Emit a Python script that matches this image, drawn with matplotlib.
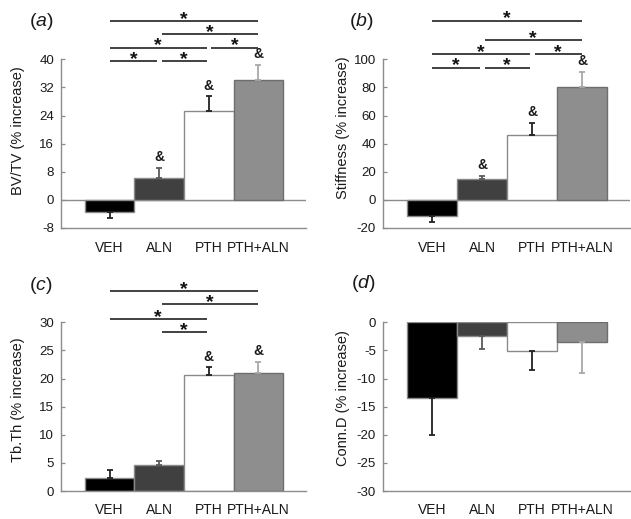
import matplotlib
matplotlib.use("Agg")
import matplotlib.pyplot as plt
import numpy as np

plt.rcParams['font.family'] = ['Liberation Sans', 'DejaVu Sans']
plt.rcParams['mathtext.fontset'] = 'custom'
plt.rcParams['mathtext.it'] = 'Liberation Sans:italic'
plt.rcParams['mathtext.rm'] = 'Liberation Sans'

# ---------------- data ----------------
groups = ["VEH", "ALN", "PTH", "PTH+ALN"]

bvtv = [-3.4, 6.3, 25.4, 34.1]
bvtv_err = [1.8, 2.9, 4.1, 4.4]

stiffness = [-11.5, 14.5, 46.5, 80.2]
stiffness_err = [4.2, 2.8, 8.5, 11.0]

tbth = [2.3, 4.7, 20.7, 20.9]
tbth_err = [1.35, 0.6, 1.3, 2.1]

connd = [-13.5, -2.5, -5.1, -3.5]
connd_err = [6.6, 2.3, 3.3, 5.5]

# significant pairs (group i, group j, bracket level)
sig_a = [(0, 3, 3), (1, 3, 2), (0, 2, 1), (2, 3, 1), (0, 1, 0), (1, 2, 0)]
sig_b = [(0, 3, 3), (1, 3, 2), (0, 2, 1), (2, 3, 1), (0, 1, 0), (1, 2, 0)]
sig_c = [(0, 3, 3), (1, 3, 2), (0, 2, 1), (1, 2, 0)]
sig_d = []

# '&' marks (vs VEH)
amp_a = [False, True, True, True]
amp_b = [False, True, True, True]
amp_c = [False, False, True, True]
amp_d = [False, False, False, False]

# ---------------- style ----------------
W, H = 631, 519
fig = plt.figure(figsize=(W / 100, H / 100), dpi=100)

bar_colors = ["#000000", "#404040", "#ffffff", "#8e8e8e"]
edge_colors = ["#8a8a8a", "#8a8a8a", "#8a8a8a", "#6e6e6e"]
err_colors = ["#222222", "#5a5a5a", "#222222", "#a8a8a8"]
spine_c = "#8c8c8c"
text_c = "#1a1a1a"
line_c = "#333333"


def rect(left_px, top_px, right_px, bottom_px):
    return [left_px / W, 1 - bottom_px / H, (right_px - left_px) / W, (bottom_px - top_px) / H]


panels = [
    dict(vals=bvtv, err=bvtv_err, ylim=(-8, 40), ticks=np.arange(-8, 41, 8),
         rect=rect(61, 59.3, 306, 228), ylabel="BV/TV (% increase)", letter="a",
         sig=sig_a, levels=[39.5, 43.3, 47.2, 50.9], amp=amp_a, zero=True,
         lab_xy=(41, 21), ylab_xy=(18, 131)),
    dict(vals=stiffness, err=stiffness_err, ylim=(-20, 100), ticks=np.arange(-20, 101, 20),
         rect=rect(383, 59.3, 630, 228), ylabel="Stiffness (% increase)", letter="b",
         sig=sig_b, levels=[94.1, 103.8, 113.5, 127.4], amp=amp_b, zero=True,
         lab_xy=(361, 21), ylab_xy=(343, 128)),
    dict(vals=tbth, err=tbth_err, ylim=(0, 30), ticks=np.arange(0, 31, 5),
         rect=rect(61, 322.3, 306, 491), ylabel="Tb.Th (% increase)", letter="c",
         sig=sig_c, levels=[28.2, 30.6, 33.2, 35.5], amp=amp_c, zero=False,
         lab_xy=(41, 285), ylab_xy=(18, 400)),
    dict(vals=connd, err=connd_err, ylim=(-30, 0), ticks=np.arange(-30, 1, 5),
         rect=rect(383, 322.3, 630, 491), ylabel="Conn.D (% increase)", letter="d",
         sig=sig_d, levels=[], amp=amp_d, zero=False,
         lab_xy=(363, 284), ylab_xy=(343, 398)),
]

x = np.arange(len(groups))

for p in panels:
    ax = fig.add_axes(p["rect"])
    vals = np.array(p["vals"])
    err = np.array(p["err"])
    ax.set_xlim(-0.98, 3.96)
    ax.set_ylim(*p["ylim"])
    if p["zero"]:
        ax.axhline(0, color=spine_c, lw=1.0, zorder=1)
    ax.bar(x, vals, width=1.0, color=bar_colors, edgecolor=edge_colors,
           linewidth=1.0, zorder=2)
    for i in range(len(groups)):
        lower = err[i] if vals[i] < 0 else 0
        upper = err[i] if vals[i] >= 0 else 0
        ax.errorbar(x[i], vals[i], yerr=[[lower], [upper]], fmt='none',
                    ecolor=err_colors[i], elinewidth=1.3, capsize=2.5,
                    capthick=1.3, zorder=3)
        if p["amp"][i]:
            ax.annotate("&", (x[i], vals[i] + err[i]), xytext=(0, 2.5),
                        textcoords="offset points", ha="center", va="bottom",
                        fontsize=10, fontweight="bold", color=text_c,
                        annotation_clip=False)
    for (i, j, lev) in p["sig"]:
        y = p["levels"][lev]
        x0 = x[i] + (0.05 if i > 0 else 0.0)
        x1 = x[j] - (0.04 if j < 3 else 0.0)
        ax.plot([x0, x1], [y, y], color=line_c, lw=1.3, clip_on=False,
                solid_capstyle="butt", zorder=4)
        ax.annotate("*", ((x0 + x1) / 2, y), xytext=(0, -2.0),
                    textcoords="offset points", ha="center", va="baseline",
                    fontsize=14, fontweight="bold", color="#111111",
                    annotation_clip=False)

    for s in ["top", "right"]:
        ax.spines[s].set_visible(False)
    for s in ["left", "bottom"]:
        ax.spines[s].set_color(spine_c)
        ax.spines[s].set_linewidth(1.0)
    ax.set_yticks(p["ticks"])
    ax.set_yticklabels([f"{t:g}" for t in p["ticks"]])
    ax.tick_params(axis="y", direction="in", length=3, width=0.9,
                   color=spine_c, labelsize=9.5, labelcolor=text_c, pad=5)
    ax.set_xticks(x)
    ax.set_xticklabels(groups)
    ax.tick_params(axis="x", length=0, labelsize=10, labelcolor=text_c, pad=9)
    ax.patch.set_visible(False)

    fig.text(p["ylab_xy"][0] / W, 1 - p["ylab_xy"][1] / H, p["ylabel"],
             rotation=90, ha="center", va="center", fontsize=10.5, color=text_c)
    fig.text(p["lab_xy"][0] / W, 1 - p["lab_xy"][1] / H,
             "(" + r"$\mathit{" + p["letter"] + "}$" + ")",
             ha="center", va="center", fontsize=14, color=text_c)

fig.savefig("out.png", dpi=100)
